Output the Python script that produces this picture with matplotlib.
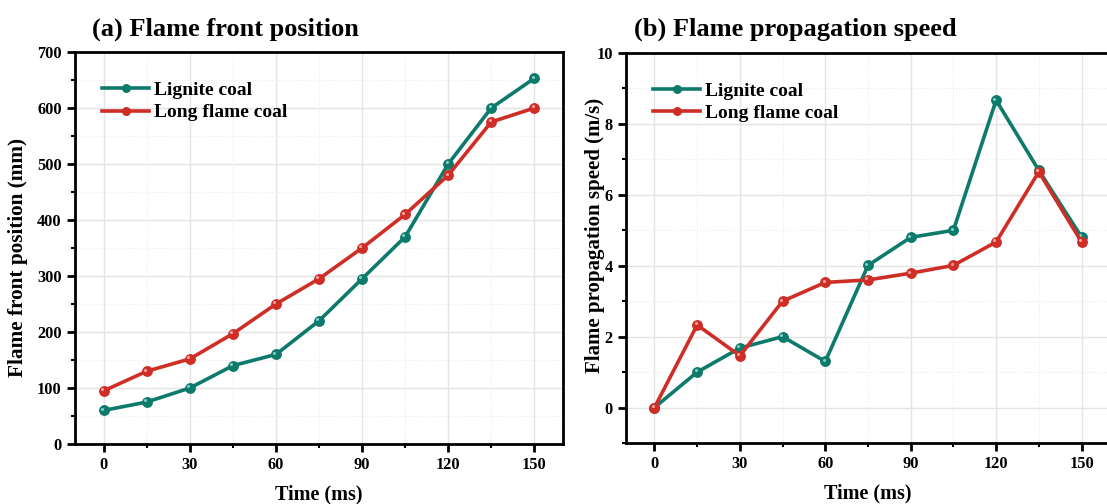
import matplotlib
matplotlib.use("Agg")
import matplotlib.pyplot as plt
import matplotlib.transforms as mtransforms
from matplotlib.ticker import MultipleLocator

plt.rcParams['font.family'] = ['Liberation Serif', 'DejaVu Serif']
plt.rcParams['font.weight'] = 'bold'

time_ms = [0, 15, 30, 45, 60, 75, 90, 105, 120, 135, 150]
pos_lignite = [60, 75, 100, 140, 160, 220, 295, 370, 500, 600, 653]
pos_longflame = [95, 130, 152, 197, 250, 295, 350, 410, 480, 575, 600]
spd_lignite = [0, 1.0, 1.68, 2.0, 1.3, 4.01, 4.8, 5.0, 8.67, 6.69, 4.81]
spd_longflame = [0, 2.33, 1.46, 3.0, 3.53, 3.6, 3.79, 4.01, 4.67, 6.65, 4.67]
series_names = ["Lignite coal", "Long flame coal"]
x_ticks = [0, 30, 60, 90, 120, 150]

teal = '#0e7a6c'
red = '#cf2e27'
teal_hi = '#7fd0c4'
red_hi = '#f4a6a0'

fig = plt.figure(figsize=(11.07, 5.04), dpi=100)
axA = fig.add_axes([75/1107, 0.119, 488/1107, 0.7778])
axB = fig.add_axes([626/1107, 0.121, 484/1107, 0.7738])

def style(ax, ylim, ymaj, ymin):
    ax.set_xlim(-10, 160)
    ax.set_ylim(*ylim)
    ax.set_xticks(x_ticks)
    ax.xaxis.set_minor_locator(MultipleLocator(15))
    ax.yaxis.set_major_locator(MultipleLocator(ymaj))
    ax.yaxis.set_minor_locator(MultipleLocator(ymin))
    ax.grid(True, which='major', color='#e4e4e4', lw=1.0, ls='-')
    ax.grid(True, which='minor', color='#ebebeb', lw=0.8, ls=':')
    ax.set_axisbelow(True)
    for s in ax.spines.values():
        s.set_linewidth(2.0)
    ax.tick_params(which='major', direction='out', length=5.5, width=2,
                   labelsize=11.8, pad=4)
    ax.tick_params(which='minor', direction='out', length=3, width=1.5)
    for lab in ax.get_xticklabels() + ax.get_yticklabels():
        lab.set_fontweight('bold')

def plot_series(ax, y1, y2):
    off = mtransforms.ScaledTranslation(-1.2/72, 1.2/72, fig.dpi_scale_trans)
    for y, c, h, n in [(y1, teal, teal_hi, series_names[0]),
                       (y2, red, red_hi, series_names[1])]:
        ax.plot(time_ms, y, color=c, lw=2.6, marker='o', ms=6.8,
                mfc=c, mec=c, label=n)
        ax.plot(time_ms, y, ls='none', marker='o', ms=2.2, mfc=h, mec='none',
                transform=ax.transData + off)
    ax.legend(loc='upper left', bbox_to_anchor=(0.02, 0.97), frameon=False,
              prop={'size': 14, 'weight': 'bold'}, handlelength=2.4,
              handletextpad=0.25, labelspacing=0.25, markerscale=0.8)

plot_series(axA, pos_lignite, pos_longflame)
style(axA, (0, 700), 100, 50)
axA.set_xlabel('Time (ms)', fontsize=14.5, fontweight='bold', labelpad=8)
axA.set_ylabel('Flame front position (mm)', fontsize=15.3, fontweight='bold')
axA.yaxis.set_label_coords((28 - 75) / 488, 0.477)

plot_series(axB, spd_lignite, spd_longflame)
style(axB, (-1, 10), 2, 1)
axB.set_xlabel('Time (ms)', fontsize=14.5, fontweight='bold', labelpad=8)
axB.set_ylabel('Flame propagation speed (m/s)', fontsize=15, fontweight='bold')
axB.yaxis.set_label_coords((605 - 626) / 484, 0.531)

fig.text(92/1107, 1-36/504, '(a) Flame front position', fontsize=19, fontweight='bold',
         ha='left', va='baseline')
fig.text(634/1107, 1-36/504, '(b) Flame propagation speed', fontsize=19, fontweight='bold',
         ha='left', va='baseline')

fig.savefig('out.png', dpi=100)
